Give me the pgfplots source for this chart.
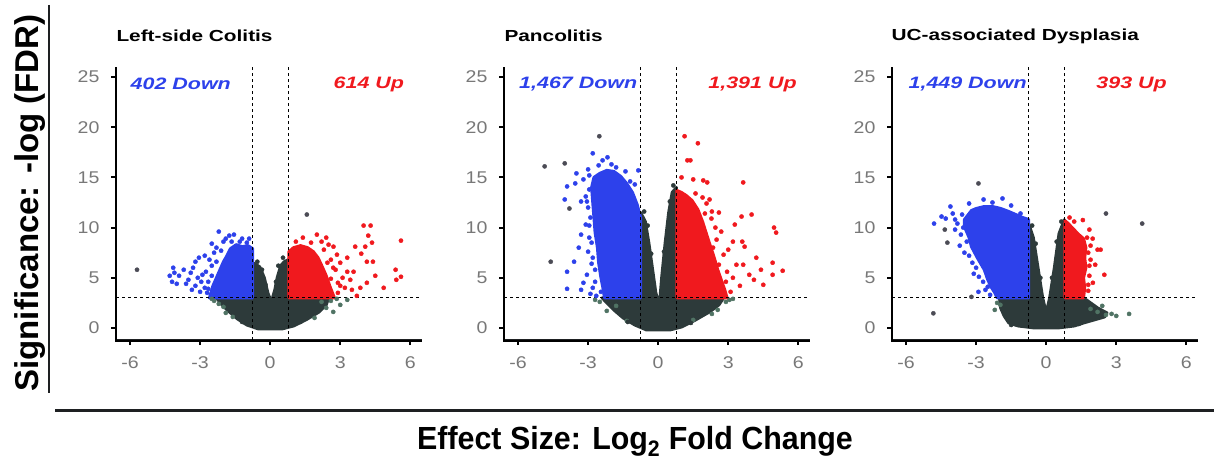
\documentclass[border=0pt]{standalone}
\usepackage{fontspec}
\setmainfont{Liberation Sans}
\newfontfamily\widef{Liberation Sans}[FakeStretch=1.3]
\newfontfamily\tickf{Liberation Sans}[FakeStretch=1.15]
\newfontfamily\xlabf{Liberation Sans}[FakeStretch=0.95]
\usepackage{pgfplots}
\pgfplotsset{compat=1.18}
\definecolor{vblue}{RGB}{45,65,235}
\definecolor{vred}{RGB}{240,25,30}
\definecolor{vgray}{RGB}{45,58,58}
\definecolor{vgreen}{RGB}{80,115,100}
\definecolor{vdark}{RGB}{75,75,85}
\definecolor{tickgray}{RGB}{120,120,120}
\definecolor{axc}{RGB}{30,32,34}
\tikzset{ann/.style={font=\widef\bfseries\itshape\fontsize{16.5}{16.5}\selectfont, anchor=west}}
\pgfplotsset{
  vol/.style={
    scale only axis, width=306pt, height=273pt,
    xmin=-6.6, xmax=6.5, ymin=-1.2, ymax=26, clip=false,
    axis lines=left,
    axis line style={line width=1.8pt, color=axc},
    every outer x axis line/.append style={-},
    every outer y axis line/.append style={-},
    xtick={-6,-3,0,3,6}, xticklabels={-6,-3,0,3,6},
    ytick={0,5,10,15,20,25}, yticklabels={0,5,10,15,20,25},
    tick align=outside, major tick length=5pt,
    every tick/.style={line width=1.8pt, color=axc},
    ticklabel style={font=\tickf\fontsize{17}{17}\selectfont, text=tickgray},
    yticklabel style={xshift=-8pt}, xticklabel style={yshift=-8pt},
    anchor=south west,
  },
  cloud/.style={line width=3pt, line join=round},
  pts/.style={only marks, mark=*, mark size=2.1pt},
  thr/.style={black, line width=0.9pt, dash pattern=on 3pt off 3pt},
}
\begin{document}
\begin{tikzpicture}
\useasboundingbox (0pt,0pt) rectangle (1214pt,459pt);

% ---------------- Panel 1: Left-side Colitis
\begin{axis}[vol, at={(116pt,119pt)}]
\addplot[cloud, fill=vgray, draw=vgray] coordinates {(-0.75,6.5) (-0.45,6.1) (-0.25,5.0) (-0.1,3.5) (0.05,2.6) (0.2,3.8) (0.3,5.0) (0.45,6.2) (0.6,6.6) (0.78,6.8) (0.8,3) (2.5,3) (2.4,2.3) (2.1,1.6) (1.6,0.9) (1.0,0.2) (0.5,-0.1) (-0.5,-0.1) (-1.0,0.3) (-1.4,0.9) (-1.8,1.7) (-2.1,2.4) (-2.3,3) (-0.8,3)} -- cycle;
\addplot[cloud, fill=vblue, draw=vblue] coordinates {(-0.75,3.0) (-0.75,7.9) (-0.95,8.2) (-1.2,8.1) (-1.45,8.3) (-1.7,7.9) (-1.85,7.2) (-2.0,6.6) (-2.15,5.8) (-2.3,5.0) (-2.45,4.2) (-2.55,3.4) (-2.6,3.0)} -- cycle;
\addplot[cloud, fill=vred, draw=vred] coordinates {(0.8,3.0) (0.8,7.6) (1.0,8.0) (1.3,8.2) (1.6,8.0) (1.85,7.6) (2.05,7.0) (2.25,6.0) (2.4,5.2) (2.55,4.2) (2.7,3.3) (2.75,3.0)} -- cycle;
\addplot[pts, vgreen] coordinates {(-1.9,1.5) (-2.2,2.4) (-2.4,2.7) (3.0,2.3) (2.4,2.0) (2.7,1.6) (-1.6,1.1) (1.9,1.0) (2.2,2.6) (3.3,2.8) (-2.0,2.1) (2.6,2.7) (-2.5,2.9) (2.85,2.9)};
\addplot[pts, vgray] coordinates {(-0.55,6.6) (-0.35,5.8) (0.35,6.2) (0.55,7.0) (-0.2,4.3) (0.25,4.6) (-1.2,0.6) (1.3,0.6)};
\addplot[pts, vblue] coordinates {(-2.2,9.6) (-1.75,9.2) (-1.55,9.3) (-2.0,8.6) (-1.3,8.6) (-1.0,8.5) (-2.3,8.0) (-2.4,7.5) (-2.1,7.7) (-2.6,6.8) (-2.5,6.2) (-2.75,5.6) (-2.9,5.3) (-3.1,5.0) (-2.95,4.6) (-3.2,4.2) (-2.8,4.0) (-3.0,3.6) (-2.7,3.5) (-3.4,5.5) (-3.5,4.8) (-3.6,4.4) (-3.3,6.0) (-3.2,6.6) (-3.7,5.8) (-3.9,5.2) (-4.1,5.5) (-4.3,5.2) (-4.0,4.4) (-4.2,4.6) (-4.15,6.0) (-3.05,7.0) (-2.5,8.4) (-1.9,8.9) (-0.9,8.9) (-2.8,7.2) (-2.65,4.6) (-3.35,3.8) (-2.3,6.6) (-2.5,5.2) (-2.65,3.9) (-1.2,8.9) (-1.65,8.6)};
\addplot[pts, vred] coordinates {(2.0,9.3) (1.4,9.0) (2.2,8.6) (2.5,8.3) (2.71,8.1) (2.3,7.8) (2.86,7.3) (3.0,6.5) (2.6,6.8) (2.8,5.8) (3.1,5.0) (2.9,4.5) (3.2,4.0) (3.3,5.6) (3.57,5.6) (3.43,4.8) (3.86,4.0) (3.71,3.2) (3.64,8.1) (4.07,8.1) (4.36,8.5) (4.14,6.6) (4.4,6.6) (4.14,4.5) (4.86,4.0) (5.37,5.8) (5.4,4.8) (5.6,5.1) (5.6,8.7) (4.0,10.2) (4.3,10.2) (3.9,7.4) (3.3,7.0) (2.9,3.5) (2.4,9.0) (3.5,3.8) (4.5,5.2) (4.2,9.2) (2.7,6.0) (3.0,4.2) (2.45,6.5) (2.6,4.9) (1.1,8.6) (1.75,8.5)};
\addplot[pts, vdark] coordinates {(-5.7,5.8) (1.57,11.3)};
\addplot[thr] coordinates {(-0.75,-1.2) (-0.75,26)};
\addplot[thr] coordinates {(0.78,-1.2) (0.78,26)};
\addplot[thr] coordinates {(-6.6,3) (6.5,3)};
\node[ann, text=vblue] at (axis cs:-6.12,24.3) {402 Down};
\node[ann, text=vred] at (axis cs:2.57,24.3) {614 Up};
\end{axis}

% ---------------- Panel 2: Pancolitis
\begin{axis}[vol, at={(504pt,119pt)}]
\addplot[cloud, fill=vgray, draw=vgray] coordinates {(-0.75,11.5) (-0.55,10.6) (-0.4,8.5) (-0.25,6) (-0.1,3.5) (0.05,2.2) (0.15,5) (0.3,8.5) (0.45,11.5) (0.6,13.5) (0.78,14.0) (0.8,3) (2.8,3) (2.6,2.3) (2.2,1.6) (1.6,0.8) (1.0,0.1) (0.5,-0.2) (-0.5,-0.2) (-1.0,0.3) (-1.5,1.0) (-1.9,1.8) (-2.2,2.5) (-2.4,3) (-0.8,3)} -- cycle;
\addplot[cloud, fill=vblue, draw=vblue] coordinates {(-0.75,3.0) (-0.75,11.0) (-0.9,12.3) (-1.1,13.5) (-1.35,14.4) (-1.6,15.1) (-1.9,15.6) (-2.2,15.7) (-2.5,15.4) (-2.75,15.0) (-2.85,14.0) (-2.8,12.5) (-2.75,11.0) (-2.7,9.5) (-2.6,8.0) (-2.55,6.5) (-2.45,5.0) (-2.35,3.8) (-2.3,3.0)} -- cycle;
\addplot[cloud, fill=vred, draw=vred] coordinates {(0.8,3.0) (0.8,13.7) (1.0,13.5) (1.2,13.2) (1.45,12.7) (1.7,11.8) (1.9,10.6) (2.05,9.5) (2.2,8.4) (2.4,7.0) (2.55,5.8) (2.7,4.8) (2.85,3.8) (2.95,3.0)} -- cycle;
\addplot[pts, vgreen] coordinates {(2.55,1.8) (1.5,0.8) (-2.2,1.7) (-1.34,0.7) (-2.5,2.6) (2.9,2.6) (3.2,2.9) (-1.8,2.2) (2.3,1.4) (-2.7,2.8) (3.05,2.8)};
\addplot[pts, vgray] coordinates {(-0.6,11.6) (-0.45,10.2) (0.5,12.6) (0.65,14.2) (-0.3,7.4) (0.25,7.6) (-1.3,0.6) (1.4,0.5)};
\addplot[pts, vblue] coordinates {(-2.8,17.4) (-2.38,16.7) (-2.17,17.0) (-2.55,16.2) (-2.0,16.3) (-1.8,16.0) (-3.5,15.4) (-3.9,14.1) (-3.55,14.4) (-3.2,14.8) (-3.0,15.8) (-3.1,13.1) (-3.3,12.6) (-3.0,12.0) (-3.1,10.3) (-3.3,9.3) (-2.95,9.0) (-2.4,9.8) (-2.55,8.1) (-3.0,7.6) (-2.8,7.0) (-3.6,6.6) (-3.9,5.6) (-3.05,5.3) (-3.9,3.9) (-3.3,3.8) (-2.4,6.3) (-2.7,4.6) (-2.45,3.6) (-2.9,3.4) (-3.2,4.5) (-2.7,5.8) (-3.4,8.0) (-1.4,15.6) (-0.85,15.7) (-1.0,14.3) (-4.0,12.8) (-2.9,11.0) (-2.95,13.8) (-2.85,8.5) (-2.95,15.2) (-1.2,14.6) (-2.65,3.2) (-2.85,6.4) (-3.05,12.6) (-2.95,10.2) (-2.8,4.0)};
\addplot[pts, vred] coordinates {(1.13,19.1) (1.7,18.4) (1.25,16.7) (1.38,16.7) (1.0,15.0) (1.5,14.8) (1.93,14.7) (2.1,14.5) (3.64,14.5) (1.9,13.0) (2.07,12.4) (2.3,11.6) (2.28,10.9) (3.57,11.1) (4.0,11.3) (3.28,10.3) (4.96,10.0) (5.05,9.5) (3.2,8.6) (3.6,8.6) (3.7,8.1) (2.5,8.8) (2.8,7.3) (2.6,6.3) (3.35,6.3) (3.64,6.3) (3.9,5.3) (4.4,5.8) (4.9,6.5) (4.9,5.3) (5.33,5.7) (4.5,4.3) (3.2,5.0) (2.9,4.6) (2.7,9.6) (3.0,7.8) (2.45,10.0) (3.1,3.6) (3.5,4.2) (4.1,4.8) (4.2,7.0) (2.2,12.8) (2.95,5.6) (2.6,11.5) (1.6,13.4) (2.0,11.4) (2.35,8.0)};
\addplot[pts, vdark] coordinates {(-2.52,19.1) (-4.86,16.1) (-4.0,16.4) (-3.8,11.9) (-4.6,6.6)};
\addplot[thr] coordinates {(-0.75,-1.2) (-0.75,26)};
\addplot[thr] coordinates {(0.78,-1.2) (0.78,26)};
\addplot[thr] coordinates {(-6.6,3) (6.5,3)};
\node[ann, text=vblue] at (axis cs:-6.1,24.3) {1,467 Down};
\node[ann, text=vred] at (axis cs:2.0,24.3) {1,391 Up};
\end{axis}

% ---------------- Panel 3: UC-associated Dysplasia
\begin{axis}[vol, at={(892pt,119pt)}]
\addplot[cloud, fill=vgray, draw=vgray] coordinates {(-0.75,10.4) (-0.55,9.0) (-0.35,6.0) (-0.15,3.0) (0.0,1.5) (0.15,3.0) (0.35,6.0) (0.55,9.4) (0.78,10.8) (0.8,3) (1.6,3) (1.9,2.5) (2.2,2.0) (2.6,1.5) (2.5,1.1) (1.6,0.5) (1.2,0.2) (0.5,0) (-0.5,0) (-1.2,0.2) (-1.6,0.5) (-1.8,1.2) (-1.95,2.0) (-2.0,3) (-0.8,3)} -- cycle;
\addplot[cloud, fill=vblue, draw=vblue] coordinates {(-0.75,3.0) (-0.75,10.8) (-1.0,11.0) (-1.25,11.25) (-1.6,11.6) (-1.94,11.9) (-2.3,12.1) (-2.65,12.1) (-3.0,11.9) (-3.2,11.7) (-3.5,10.8) (-3.5,10.1) (-3.3,9.0) (-3.2,8.1) (-2.95,7.0) (-2.65,5.8) (-2.5,4.8) (-2.36,4.1) (-2.2,3.5) (-2.1,3.0)} -- cycle;
\addplot[cloud, fill=vred, draw=vred] coordinates {(0.8,3.0) (0.8,10.7) (0.95,10.4) (1.15,9.9) (1.4,9.3) (1.6,8.9) (1.7,8.0) (1.65,7.0) (1.7,6.0) (1.6,5.0) (1.65,4.0) (1.6,3.0)} -- cycle;
\addplot[pts, vgreen] coordinates {(3.55,1.4) (2.56,1.3) (2.8,1.4) (2.2,1.6) (-2.1,2.5) (-2.2,1.8) (3.0,1.2) (1.9,1.9) (2.4,2.2) (-1.96,2.3)};
\addplot[pts, vgray] coordinates {(-0.6,10.2) (-0.45,8.4) (0.45,8.6) (0.65,10.6) (-0.25,5.0) (0.25,5.0) (-1.5,0.3) (1.4,0.4)};
\addplot[pts, vblue] coordinates {(-2.68,12.8) (-2.3,12.5) (-1.87,12.9) (-4.1,12.1) (-4.8,10.4) (-4.48,11.1) (-3.9,10.8) (-3.8,10.4) (-3.65,9.3) (-3.5,7.5) (-3.16,6.5) (-2.88,5.1) (-2.5,4.1) (-4.0,11.4) (-3.6,11.3) (-3.3,12.4) (-3.9,9.8) (-3.4,8.6) (-3.7,8.2) (-3.0,6.0) (-2.7,4.6) (-2.9,3.6) (-2.4,3.3) (-3.3,7.2) (-1.5,12.2) (-4.3,10.9) (-3.55,10.0) (-3.1,5.4) (-2.6,3.8) (-1.1,11.4)};
\addplot[pts, vred] coordinates {(1.85,9.8) (1.99,8.9) (2.2,7.8) (2.33,7.8) (1.85,6.2) (2.49,5.3) (1.85,5.2) (1.9,6.8) (1.57,10.75) (1.2,10.6) (1.0,11.0) (1.8,7.5) (2.0,4.5) (1.8,3.7) (1.9,8.2) (2.1,6.3) (1.8,4.3) (1.75,9.0)};
\addplot[pts, vdark] coordinates {(-2.9,14.4) (-4.34,9.8) (-4.23,8.5) (-3.2,3.1) (-4.83,1.46) (2.56,11.4) (4.11,10.4)};
\addplot[thr] coordinates {(-0.75,-1.2) (-0.75,26)};
\addplot[thr] coordinates {(0.78,-1.2) (0.78,26)};
\addplot[thr] coordinates {(-6.6,3) (6.5,3)};
\node[ann, text=vblue] at (axis cs:-6.04,24.3) {1,449 Down};
\node[ann, text=vred] at (axis cs:2.0,24.3) {393 Up};
\end{axis}

% ---------------- axis frames drawn as plain lines (panel 1)
\draw[black, line width=2pt] (116pt,392pt) -- (116pt,118pt) -- (422pt,118pt);
\draw[black, line width=2pt] (130pt,119pt) -- (130pt,114pt);
\draw[black, line width=2pt] (200pt,119pt) -- (200pt,114pt);
\draw[black, line width=2pt] (270pt,119pt) -- (270pt,114pt);
\draw[black, line width=2pt] (340pt,119pt) -- (340pt,114pt);
\draw[black, line width=2pt] (410pt,119pt) -- (410pt,114pt);
\draw[black, line width=2pt] (116pt,131pt) -- (111pt,131pt);
\draw[black, line width=2pt] (116pt,181pt) -- (111pt,181pt);
\draw[black, line width=2pt] (116pt,231pt) -- (111pt,231pt);
\draw[black, line width=2pt] (116pt,282pt) -- (111pt,282pt);
\draw[black, line width=2pt] (116pt,332pt) -- (111pt,332pt);
\draw[black, line width=2pt] (116pt,382pt) -- (111pt,382pt);
% panel 2
\draw[black, line width=2pt] (504pt,392pt) -- (504pt,118pt) -- (810pt,118pt);
\draw[black, line width=2pt] (518pt,119pt) -- (518pt,114pt);
\draw[black, line width=2pt] (588pt,119pt) -- (588pt,114pt);
\draw[black, line width=2pt] (658pt,119pt) -- (658pt,114pt);
\draw[black, line width=2pt] (728pt,119pt) -- (728pt,114pt);
\draw[black, line width=2pt] (798pt,119pt) -- (798pt,114pt);
\draw[black, line width=2pt] (504pt,131pt) -- (499pt,131pt);
\draw[black, line width=2pt] (504pt,181pt) -- (499pt,181pt);
\draw[black, line width=2pt] (504pt,231pt) -- (499pt,231pt);
\draw[black, line width=2pt] (504pt,282pt) -- (499pt,282pt);
\draw[black, line width=2pt] (504pt,332pt) -- (499pt,332pt);
\draw[black, line width=2pt] (504pt,382pt) -- (499pt,382pt);
% panel 3
\draw[black, line width=2pt] (892pt,392pt) -- (892pt,118pt) -- (1198pt,118pt);
\draw[black, line width=2pt] (906pt,119pt) -- (906pt,114pt);
\draw[black, line width=2pt] (976pt,119pt) -- (976pt,114pt);
\draw[black, line width=2pt] (1046pt,119pt) -- (1046pt,114pt);
\draw[black, line width=2pt] (1116pt,119pt) -- (1116pt,114pt);
\draw[black, line width=2pt] (1186pt,119pt) -- (1186pt,114pt);
\draw[black, line width=2pt] (892pt,131pt) -- (887pt,131pt);
\draw[black, line width=2pt] (892pt,181pt) -- (887pt,181pt);
\draw[black, line width=2pt] (892pt,231pt) -- (887pt,231pt);
\draw[black, line width=2pt] (892pt,282pt) -- (887pt,282pt);
\draw[black, line width=2pt] (892pt,332pt) -- (887pt,332pt);
\draw[black, line width=2pt] (892pt,382pt) -- (887pt,382pt);

% ---------------- titles and shared labels
\node[anchor=west, font=\widef\bfseries\fontsize{16}{16}\selectfont] at (113pt,423pt) {Left-side Colitis};
\node[anchor=west, font=\widef\bfseries\fontsize{16}{16}\selectfont] at (501pt,423pt) {Pancolitis};
\node[anchor=west, font=\widef\bfseries\fontsize{16}{16}\selectfont] at (888pt,423pt) {UC-associated Dysplasia};
\node[rotate=90, font=\bfseries\fontsize{33}{33}\selectfont] at (30pt,256pt) {Significance: -log (FDR)};
\draw[line width=2.5pt, axc] (49pt,454pt) -- (49pt,66pt);
\draw[line width=3pt, axc] (55pt,49pt) -- (1214pt,49pt);
\node[font=\xlabf\bfseries\fontsize{32}{32}\selectfont] at (635pt,18pt) {Effect Size: Log\textsubscript{2} Fold Change};
\end{tikzpicture}
\end{document}
